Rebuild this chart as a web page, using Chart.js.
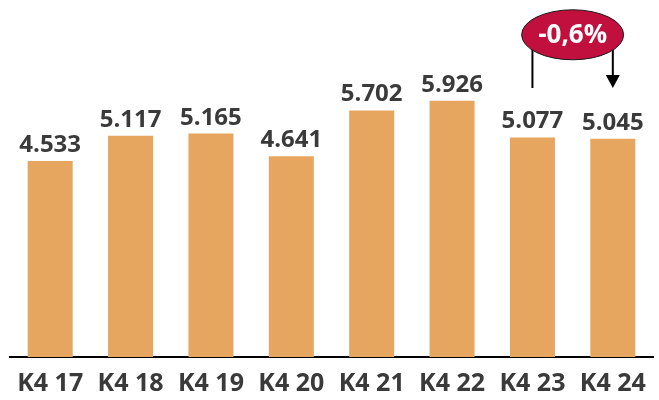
<!DOCTYPE html>
<html>
<head>
<meta charset="utf-8">
<script src="https://cdn.jsdelivr.net/npm/chart.js@4"></script>
<style>
	body { margin: 0; background: #fff; }
	#wrap { width: 659px; height: 400px; }
</style>
</head>
<body>
<div id="wrap"><canvas id="chart"></canvas></div>
<script>
const categories = ['K4 17', 'K4 18', 'K4 19', 'K4 20', 'K4 21', 'K4 22', 'K4 23', 'K4 24'];
const values = [4533, 5117, 5165, 4641, 5702, 5926, 5077, 5045];
const changeLabel = '-0,6%';
const changeFrom = 6;
const changeTo = 7;

const fontFamily = '"Open Sans", "Noto Sans", sans-serif';

function fmt(v) {
	return v.toLocaleString('de-DE');
}

// value labels above bars
const valueLabels = {
	id: 'valueLabels',
	afterDatasetsDraw(chart) {
		const ctx = chart.ctx;
		const meta = chart.getDatasetMeta(0);
		ctx.save();
		ctx.font = 'bold 24px ' + fontFamily;
		ctx.fillStyle = '#3a3a3a';
		ctx.textAlign = 'center';
		ctx.textBaseline = 'alphabetic';
		meta.data.forEach((bar, i) => {
			ctx.fillText(fmt(values[i]), bar.x, bar.y - 9);
		});
		ctx.restore();
	}
};

// red ellipse with arrow between two bars
const changeBubble = {
	id: 'changeBubble',
	afterDraw(chart) {
		const ctx = chart.ctx;
		const x = chart.scales.x;
		const y = chart.scales.y;
		const x1 = x.getPixelForValue(changeFrom);
		const x2 = x.getPixelForValue(changeTo);
		const top = y.getPixelForValue(7300);
		const tip = y.getPixelForValue(6220);
		const cx = (x1 + x2) / 2;
		const cy = y.getPixelForValue(7450);

		ctx.save();
		ctx.strokeStyle = '#000';
		ctx.lineWidth = 2;
		ctx.beginPath();
		ctx.moveTo(x1, top);
		ctx.lineTo(x1, tip);
		ctx.moveTo(x2, top);
		ctx.lineTo(x2, tip - 12);
		ctx.stroke();
		ctx.fillStyle = '#000';
		ctx.beginPath();
		ctx.moveTo(x2 - 7, tip - 13);
		ctx.lineTo(x2 + 7, tip - 13);
		ctx.lineTo(x2, tip);
		ctx.closePath();
		ctx.fill();

		ctx.beginPath();
		ctx.ellipse(cx, cy, 51, 25, 0, 0, Math.PI * 2);
		ctx.fillStyle = '#C2103E';
		ctx.fill();
		ctx.strokeStyle = '#1a1a1a';
		ctx.lineWidth = 1;
		ctx.stroke();

		ctx.font = 'bold 26px ' + fontFamily;
		ctx.fillStyle = '#fff';
		ctx.textAlign = 'center';
		ctx.textBaseline = 'middle';
		ctx.fillText(changeLabel, cx, cy + 1);
		ctx.restore();
	}
};

const data = {
	labels: categories,
	datasets: [{
		data: values,
		backgroundColor: '#E7A65F',
		borderWidth: 0,
		categoryPercentage: 1,
		barPercentage: 0.56
	}]
};

const config = {
	type: 'bar',
	data: data,
	options: {
		responsive: true,
		maintainAspectRatio: false,
		animation: false,
		layout: { padding: { top: 11, left: 10, right: 6, bottom: 0 } },
		plugins: {
			legend: { display: false },
			tooltip: { enabled: false }
		},
		scales: {
			x: {
				grid: { display: false, drawTicks: false },
				border: { display: true, color: '#000', width: 2 },
				ticks: {
					color: '#3a3a3a',
					padding: 12,
					font: { family: fontFamily, size: 25, weight: 'bold', lineHeight: 1.2 }
				},
				afterFit(scale) {
					scale.height = 43;
				}
			},
			y: {
				display: false,
				min: 0,
				max: 8000
			}
		}
	},
	plugins: [valueLabels, changeBubble]
};

new Chart(document.getElementById('chart'), config);
</script>
</body>
</html>
